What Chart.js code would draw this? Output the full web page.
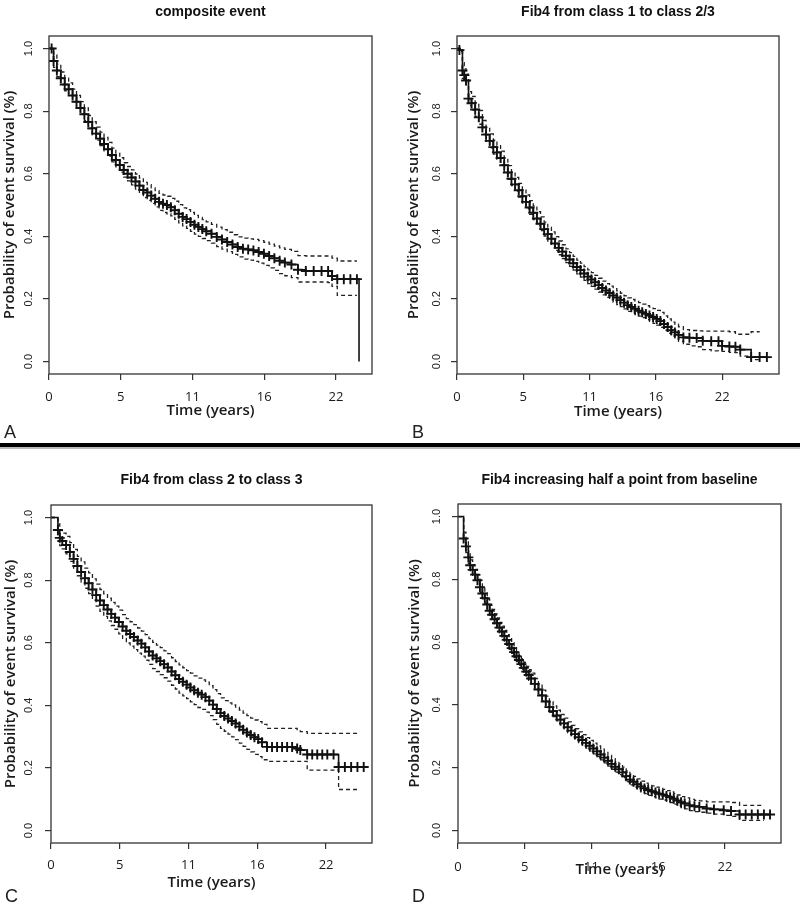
<!DOCTYPE html>
<html>
<head>
<meta charset="utf-8">
<script src="https://cdn.jsdelivr.net/npm/chart.js@4.4.1/dist/chart.umd.min.js"></script>
<style>
  body { margin: 0; background: #fff; width: 800px; height: 903px; position: relative; overflow: hidden; }
  .panel { position: absolute; }
  .letter { position: absolute; font: 18px/18px "Liberation Sans", Arial, sans-serif; color: #222; }
  .sep { position: absolute; left: 0; width: 800px; top: 443px; height: 4px; background: #000; }
  .sep2 { position: absolute; left: 0; width: 800px; top: 447px; height: 2px; background: #bbb; }
</style>
</head>
<body>
<div class="panel" style="left:0;top:0"><canvas id="chartA" width="400" height="440"></canvas></div>
<div class="panel" style="left:400px;top:0"><canvas id="chartB" width="400" height="440"></canvas></div>
<div class="panel" style="left:0;top:452px"><canvas id="chartC" width="400" height="451"></canvas></div>
<div class="panel" style="left:400px;top:452px"><canvas id="chartD" width="400" height="451"></canvas></div>
<div class="sep"></div><div class="sep2"></div>
<div class="letter" style="left:4px;top:423px">A</div>
<div class="letter" style="left:412px;top:423px">B</div>
<div class="letter" style="left:5px;top:887px">C</div>
<div class="letter" style="left:412px;top:887px">D</div>
<script>
// axis ticks (x ticks sit every 2000 days, labelled in whole years)
const xTickYears = [0, 5.476, 10.951, 16.427, 21.903];
const xTickLabels = ['0', '5', '11', '16', '22'];
const yTicks = [0, 0.2, 0.4, 0.6, 0.8, 1.0];
const xAxisTitle = 'Time (years)';
const yAxisTitle = 'Probability of event survival (%)';

// A - composite event
const aTime = [0, 0.2, 0.35, 0.6, 0.9, 1.2, 1.5, 1.8, 2.1, 2.4, 2.7, 3.0,
  3.3, 3.6, 3.9, 4.2, 4.5, 4.8, 5.1, 5.4, 5.7, 6.0, 6.3, 6.6, 6.9, 7.2, 7.5, 7.8, 8.1, 8.4, 8.7, 9.0,
  9.3, 9.6, 9.9, 10.2, 10.5, 10.8, 11.1, 11.4, 11.7, 12.0,
  12.4, 12.8, 13.2, 13.6, 14.0, 14.4, 14.8, 15.2, 15.6, 16.0, 16.4, 16.8, 17.2, 17.6, 18.0,
  18.5, 19.0, 19.6, 20.2, 20.8, 21.3, 21.6, 22.0, 22.5, 23.0, 23.5, 23.66];
const aSurv = [1.0, 1.0, 0.96, 0.93, 0.905, 0.885, 0.87, 0.85, 0.83, 0.81, 0.79, 0.765,
  0.745, 0.728, 0.712, 0.695, 0.678, 0.66, 0.644, 0.628, 0.612, 0.6, 0.588, 0.575, 0.562, 0.548, 0.54, 0.53, 0.52, 0.51, 0.504, 0.5,
  0.493, 0.483, 0.472, 0.462, 0.455, 0.446, 0.437, 0.43, 0.423, 0.416,
  0.408, 0.398, 0.39, 0.382, 0.374, 0.366, 0.36, 0.358, 0.355, 0.35, 0.344, 0.337, 0.33, 0.322, 0.316,
  0.31, 0.293, 0.289, 0.289, 0.289, 0.289, 0.273, 0.263, 0.263, 0.263, 0.263, 0.0];
const aUpper = [1, 1, 0.98, 0.95, 0.925, 0.905, 0.89, 0.87, 0.85, 0.83, 0.81, 0.786,
  0.766, 0.749, 0.733, 0.716, 0.7, 0.682, 0.666, 0.651, 0.635, 0.623, 0.612, 0.599, 0.586, 0.572, 0.565, 0.555, 0.546, 0.537, 0.532, 0.528,
  0.521, 0.512, 0.501, 0.491, 0.485, 0.476, 0.467, 0.46, 0.453, 0.446,
  0.438, 0.429, 0.421, 0.413, 0.405, 0.398, 0.394, 0.392, 0.39, 0.386, 0.381, 0.375, 0.369, 0.363, 0.358,
  0.352, 0.338, 0.337, 0.337, 0.337, 0.337, 0.33, 0.321, 0.321, 0.321, 0.321, null];
const aLower = [1, 1, 0.94, 0.91, 0.885, 0.865, 0.85, 0.83, 0.81, 0.79, 0.77, 0.744,
  0.724, 0.707, 0.69, 0.673, 0.656, 0.638, 0.622, 0.605, 0.589, 0.577, 0.564, 0.551, 0.538, 0.524, 0.515, 0.505, 0.494, 0.483, 0.476, 0.472,
  0.465, 0.454, 0.443, 0.433, 0.425, 0.416, 0.407, 0.4, 0.393, 0.386,
  0.378, 0.367, 0.359, 0.351, 0.342, 0.334, 0.327, 0.324, 0.32, 0.314, 0.307, 0.299, 0.291, 0.281, 0.274,
  0.268, 0.254, 0.254, 0.254, 0.254, 0.252, 0.24, 0.211, 0.211, 0.211, 0.211, null];

// B - Fib4 from class 1 to class 2/3
const bTime = [0, 0.2, 0.45, 0.6, 0.75, 0.95,
  1.2, 1.5, 1.8, 2.1, 2.4, 2.7, 3.0, 3.3, 3.6, 3.9, 4.2, 4.5, 4.8, 5.1, 5.4, 5.7, 6.0, 6.3, 6.6, 6.9,
  7.2, 7.5, 7.8, 8.1, 8.4, 8.7, 9.0, 9.3, 9.6, 9.9, 10.2, 10.5, 10.8, 11.1, 11.4, 11.7, 12.0, 12.3, 12.6, 12.9,
  13.2, 13.5, 13.8, 14.1, 14.4, 14.7, 15.0, 15.3, 15.6, 15.9, 16.2, 16.5, 16.8, 17.1, 17.4, 17.7, 18.0, 18.3,
  18.7, 19.2, 19.8, 20.3, 21.0, 21.6, 21.9, 22.5, 23.0, 23.4, 24.3, 25.0, 25.6];
const bSurv = [1, 0.995, 0.93, 0.915, 0.898, 0.84,
  0.825, 0.805, 0.78, 0.748, 0.725, 0.705, 0.685, 0.668, 0.65, 0.627, 0.604, 0.584, 0.566, 0.547, 0.528, 0.51, 0.492, 0.475, 0.457, 0.44,
  0.423, 0.407, 0.392, 0.377, 0.363, 0.351, 0.338, 0.326, 0.314, 0.302, 0.292, 0.281, 0.271, 0.262, 0.253, 0.244, 0.235, 0.227, 0.219, 0.211,
  0.204, 0.196, 0.188, 0.18, 0.174, 0.168, 0.162, 0.157, 0.152, 0.147, 0.142, 0.136, 0.129, 0.12, 0.11, 0.1, 0.093, 0.085,
  0.077, 0.076, 0.075, 0.066, 0.065, 0.065, 0.05, 0.048, 0.047, 0.038, 0.014, 0.014, 0.014];
const bUpper = [1, 1, 0.955, 0.935, 0.918, 0.862,
  0.847, 0.827, 0.802, 0.77, 0.747, 0.727, 0.707, 0.69, 0.672, 0.649, 0.626, 0.606, 0.588, 0.569, 0.55, 0.532, 0.514, 0.497, 0.479, 0.462,
  0.445, 0.429, 0.414, 0.399, 0.385, 0.373, 0.36, 0.348, 0.336, 0.324, 0.314, 0.303, 0.293, 0.284, 0.275, 0.266, 0.257, 0.249, 0.241, 0.233,
  0.226, 0.218, 0.21, 0.203, 0.198, 0.193, 0.188, 0.183, 0.178, 0.174, 0.169, 0.163, 0.157, 0.146, 0.136, 0.126, 0.119, 0.111,
  0.102, 0.099, 0.098, 0.097, 0.097, 0.097, 0.097, 0.095, 0.087, 0.087, 0.095, 0.095, null];
const bLower = [1, 0.99, 0.905, 0.895, 0.878, 0.818,
  0.803, 0.783, 0.758, 0.726, 0.703, 0.683, 0.663, 0.646, 0.628, 0.605, 0.582, 0.562, 0.544, 0.525, 0.506, 0.488, 0.47, 0.453, 0.435, 0.418,
  0.401, 0.385, 0.37, 0.355, 0.341, 0.329, 0.316, 0.304, 0.292, 0.28, 0.27, 0.259, 0.249, 0.24, 0.231, 0.222, 0.213, 0.205, 0.197, 0.189,
  0.182, 0.175, 0.168, 0.16, 0.155, 0.15, 0.145, 0.14, 0.134, 0.128, 0.122, 0.116, 0.109, 0.1, 0.09, 0.081, 0.073, 0.064,
  0.055, 0.05, 0.047, 0.038, 0.034, 0.033, 0.032, 0.029, 0.028, 0.017, 0.006, 0.006, null];

// C - Fib4 from class 2 to class 3
const cTime = [0, 0.55, 0.7, 0.9,
  1.2, 1.5, 1.8, 2.1, 2.4, 2.7, 3.0, 3.3, 3.6, 3.9, 4.2, 4.5, 4.8, 5.1, 5.4, 5.7, 6.0, 6.3, 6.6, 6.9,
  7.2, 7.5, 7.8, 8.1, 8.4, 8.7, 9.0, 9.3, 9.6, 9.9, 10.2, 10.5, 10.8, 11.1, 11.4, 11.7, 12.0, 12.3, 12.6, 12.9,
  13.2, 13.5, 13.8, 14.1, 14.4, 14.7, 15.0, 15.3, 15.6, 15.9, 16.2, 16.5, 16.8,
  17.2, 17.6, 18.0, 18.4, 18.8, 19.2, 19.6, 19.85, 20.4, 20.8, 21.2, 21.6, 22.0, 22.5, 22.9, 23.4, 23.9, 24.4, 24.9];
const cSurv = [1, 0.96, 0.935, 0.925,
  0.912, 0.89, 0.868, 0.845, 0.826, 0.806, 0.79, 0.77, 0.752, 0.735, 0.72, 0.706, 0.692, 0.68, 0.666, 0.652, 0.638, 0.628, 0.618, 0.607,
  0.597, 0.585, 0.572, 0.559, 0.55, 0.541, 0.531, 0.521, 0.508, 0.496, 0.484, 0.475, 0.466, 0.457, 0.448, 0.44, 0.434, 0.426, 0.415, 0.402,
  0.388, 0.375, 0.366, 0.358, 0.35, 0.342, 0.332, 0.322, 0.313, 0.305, 0.298, 0.292, 0.282,
  0.267, 0.267, 0.267, 0.267, 0.267, 0.267, 0.262, 0.257, 0.243, 0.243, 0.243, 0.243, 0.243, 0.243, 0.203, 0.203, 0.203, 0.203, 0.203];
const cUpper = [1, 0.98, 0.96, 0.95,
  0.94, 0.92, 0.898, 0.876, 0.858, 0.838, 0.823, 0.804, 0.787, 0.77, 0.756, 0.742, 0.729, 0.717, 0.704, 0.69, 0.677, 0.667, 0.658, 0.647,
  0.637, 0.626, 0.613, 0.601, 0.592, 0.584, 0.574, 0.565, 0.552, 0.54, 0.529, 0.52, 0.511, 0.503, 0.494, 0.487, 0.481, 0.474, 0.463, 0.45,
  0.437, 0.424, 0.415, 0.408, 0.401, 0.394, 0.385, 0.375, 0.367, 0.359, 0.353, 0.348, 0.339,
  0.326, 0.326, 0.326, 0.326, 0.326, 0.326, 0.322, 0.316, 0.31, 0.31, 0.31, 0.31, 0.31, 0.31, 0.31, 0.31, 0.31, 0.31, null];
const cLower = [1, 0.94, 0.91, 0.9,
  0.884, 0.86, 0.838, 0.814, 0.794, 0.774, 0.757, 0.736, 0.717, 0.7, 0.684, 0.67, 0.655, 0.643, 0.628, 0.614, 0.599, 0.589, 0.578, 0.567,
  0.557, 0.544, 0.531, 0.517, 0.508, 0.498, 0.488, 0.477, 0.464, 0.452, 0.439, 0.43, 0.421, 0.411, 0.402, 0.393, 0.387, 0.378, 0.367, 0.354,
  0.339, 0.326, 0.317, 0.308, 0.299, 0.29, 0.279, 0.269, 0.259, 0.251, 0.243, 0.236, 0.226,
  0.221, 0.221, 0.221, 0.221, 0.221, 0.221, 0.221, 0.221, 0.193, 0.193, 0.193, 0.193, 0.193, 0.193, 0.131, 0.131, 0.131, 0.131, null];

// D - Fib4 increasing half a point from baseline
const dTime = [0, 0.46, 0.65, 0.85,
  1.0, 1.2, 1.4, 1.6, 1.8, 2.0, 2.2, 2.4, 2.6, 2.8, 3.0, 3.2, 3.4, 3.6, 3.8, 4.0, 4.2, 4.4, 4.6, 4.8, 5.0, 5.2, 5.4, 5.6, 5.8, 6.0,
  6.3, 6.6, 6.9, 7.2, 7.5, 7.8, 8.1, 8.4, 8.7, 9.0, 9.3, 9.6, 9.9, 10.2, 10.5, 10.8, 11.1, 11.4, 11.7, 12.0,
  12.3, 12.6, 12.9, 13.2, 13.5, 13.8, 14.1, 14.4, 14.7, 15.0, 15.3, 15.6, 15.9, 16.2, 16.5, 16.8, 17.1, 17.4, 17.7, 18.0, 18.3, 18.6,
  19.0, 19.4, 19.8, 20.4, 21.0, 21.8, 22.4, 23.1, 23.6, 24.1, 24.6, 25.1, 25.6];
const dSurv = [1, 0.93, 0.905, 0.87,
  0.845, 0.83, 0.815, 0.797, 0.775, 0.755, 0.74, 0.72, 0.7, 0.687, 0.673, 0.66, 0.646, 0.634, 0.62, 0.607, 0.594, 0.581, 0.568, 0.555, 0.543, 0.53, 0.518, 0.506, 0.495, 0.484,
  0.467, 0.449, 0.43, 0.411, 0.393, 0.38, 0.366, 0.353, 0.341, 0.329, 0.318, 0.307, 0.297, 0.288, 0.279, 0.27, 0.261, 0.252, 0.242, 0.232,
  0.222, 0.212, 0.203, 0.195, 0.185, 0.173, 0.162, 0.155, 0.147, 0.14, 0.134, 0.129, 0.125, 0.121, 0.117, 0.114, 0.11, 0.106, 0.101, 0.095, 0.09, 0.086,
  0.08, 0.077, 0.075, 0.07, 0.067, 0.064, 0.062, 0.051, 0.051, 0.051, 0.051, 0.051, 0.051];
const dUpper = [1, 0.95, 0.925, 0.89,
  0.862, 0.847, 0.832, 0.814, 0.792, 0.772, 0.757, 0.737, 0.717, 0.704, 0.69, 0.677, 0.663, 0.651, 0.637, 0.624, 0.611, 0.598, 0.585, 0.572, 0.56, 0.547, 0.535, 0.523, 0.512, 0.501,
  0.484, 0.466, 0.447, 0.428, 0.41, 0.397, 0.383, 0.37, 0.358, 0.346, 0.335, 0.324, 0.314, 0.305, 0.296, 0.287, 0.278, 0.269, 0.259, 0.249,
  0.239, 0.229, 0.22, 0.212, 0.202, 0.19, 0.179, 0.172, 0.164, 0.157, 0.151, 0.146, 0.142, 0.138, 0.134, 0.131, 0.127, 0.123, 0.118, 0.113, 0.108, 0.104,
  0.099, 0.096, 0.094, 0.091, 0.091, 0.091, 0.089, 0.08, 0.08, 0.08, 0.08, 0.08, null];
const dLower = [1, 0.91, 0.885, 0.85,
  0.828, 0.813, 0.798, 0.78, 0.758, 0.738, 0.723, 0.703, 0.683, 0.67, 0.656, 0.643, 0.629, 0.617, 0.603, 0.59, 0.577, 0.564, 0.551, 0.538, 0.526, 0.513, 0.501, 0.489, 0.478, 0.467,
  0.45, 0.432, 0.413, 0.394, 0.376, 0.363, 0.349, 0.336, 0.324, 0.312, 0.301, 0.29, 0.28, 0.271, 0.262, 0.253, 0.244, 0.235, 0.225, 0.215,
  0.205, 0.195, 0.186, 0.178, 0.168, 0.156, 0.145, 0.138, 0.13, 0.123, 0.117, 0.112, 0.108, 0.104, 0.1, 0.097, 0.093, 0.089, 0.084, 0.078, 0.073, 0.069,
  0.063, 0.06, 0.058, 0.055, 0.052, 0.048, 0.045, 0.032, 0.032, 0.032, 0.032, 0.032, null];

// draws the R-style box round the plot and the bold title over it
const framePlugin = {
  id: 'frame',
  afterDraw(chart, args, opts) {
    const { ctx, chartArea: a } = chart;
    ctx.save();
    ctx.strokeStyle = '#333';
    ctx.lineWidth = 1.3;
    ctx.strokeRect(a.left, a.top, a.right - a.left, a.bottom - a.top);
    ctx.fillStyle = '#111';
    ctx.font = 'bold 14px "Liberation Sans", Arial, sans-serif';
    ctx.textAlign = 'center';
    ctx.textBaseline = 'middle';
    ctx.fillText(opts.title, (a.left + a.right) / 2, opts.titleY);
    ctx.restore();
  }
};

function toPoints(times, values) {
  return times.map((t, i) => ({ x: t, y: values[i] }));
}

function makePanel(id, title, times, surv, upper, lower, geo) {
  const ctx = document.getElementById(id).getContext('2d');
  const dashed = {
    type: 'line', stepped: true, borderColor: '#222', borderWidth: 1.3,
    borderDash: [4, 3], pointRadius: 0, fill: false, spanGaps: false
  };
  const labelFont = { family: '"Open Sans", sans-serif', size: 15, weight: '600' };
  return new Chart(ctx, {
    type: 'line',
    data: {
      datasets: [
        {
          label: 'survival',
          data: toPoints(times, surv),
          stepped: true,
          borderColor: '#111',
          borderWidth: 1.6,
          fill: false,
          pointStyle: 'cross',
          pointRadius: (c) => (c.dataIndex === 0 || c.raw.y === 0) ? 0 : 5,
          pointBorderColor: '#111',
          pointBorderWidth: 1.9
        },
        Object.assign({ label: 'upper', data: toPoints(times, upper) }, dashed),
        Object.assign({ label: 'lower', data: toPoints(times, lower) }, dashed)
      ]
    },
    options: {
      responsive: false,
      animation: false,
      layout: { padding: { top: geo.top, right: geo.right, bottom: geo.bottom, left: 0 } },
      plugins: {
        legend: { display: false },
        tooltip: { enabled: false },
        frame: { title: title, titleY: geo.titleY }
      },
      scales: {
        x: {
          type: 'linear',
          min: 0,
          max: geo.xMax,
          afterBuildTicks: (s) => { s.ticks = xTickYears.map(v => ({ value: v })); },
          afterFit: (s) => { s.height = geo.xH; },
          ticks: {
            autoSkip: false,
            maxRotation: 0,
            padding: geo.xTickPad,
            color: '#1a1a1a',
            font: { family: '"Open Sans", sans-serif', size: 13 },
            callback: (v, i) => xTickLabels[i]
          },
          grid: { drawOnChartArea: false, tickLength: 6, color: '#333', lineWidth: 1.2 },
          border: { display: false },
          title: {
            display: true, text: xAxisTitle, color: '#1a1a1a',
            font: labelFont,
            padding: { top: 0, bottom: 0 }
          }
        },
        y: {
          min: -0.04,
          max: 1.04,
          afterBuildTicks: (s) => { s.ticks = yTicks.map(v => ({ value: v })); },
          afterFit: (s) => { s.width = geo.yW; },
          ticks: {
            minRotation: 90,
            maxRotation: 90,
            crossAlign: 'center',
            padding: geo.yTickPad,
            color: '#222',
            font: { family: '"Liberation Sans", Arial, sans-serif', size: 11 },
            callback: (v) => v.toFixed(1)
          },
          grid: { drawOnChartArea: false, tickLength: 6, color: '#333', lineWidth: 1.2 },
          border: { display: false },
          title: {
            display: true, text: yAxisTitle, color: '#1a1a1a',
            font: labelFont,
            padding: { top: geo.yTitlePad, bottom: 0 }
          }
        }
      }
    },
    plugins: [framePlugin]
  });
}

makePanel('chartA', 'composite event', aTime, aSurv, aUpper, aLower,
  { top: 36, right: 28, bottom: 20, xH: 46, yW: 49, xMax: 24.65, xTickPad: 9, yTickPad: 6, yTitlePad: 1, titleY: 12 });
makePanel('chartB', 'Fib4 from class 1 to class 2/3', bTime, bSurv, bUpper, bLower,
  { top: 36, right: 21, bottom: 19, xH: 47, yW: 57, xMax: 26.6, xTickPad: 9, yTickPad: 6, yTitlePad: 5, titleY: 12 });
makePanel('chartC', 'Fib4 from class 2 to class 3', cTime, cSurv, cUpper, cLower,
  { top: 53, right: 28, bottom: 11, xH: 49, yW: 51, xMax: 25.56, xTickPad: 8, yTickPad: 8, yTitlePad: 1.5, titleY: 28 });
makePanel('chartD', 'Fib4 increasing half a point from baseline', dTime, dSurv, dUpper, dLower,
  { top: 52, right: 19, bottom: 24, xH: 36, yW: 58, xMax: 26.5, xTickPad: 10, yTickPad: 7, yTitlePad: 5.5, titleY: 28 });
</script>
</body>
</html>
